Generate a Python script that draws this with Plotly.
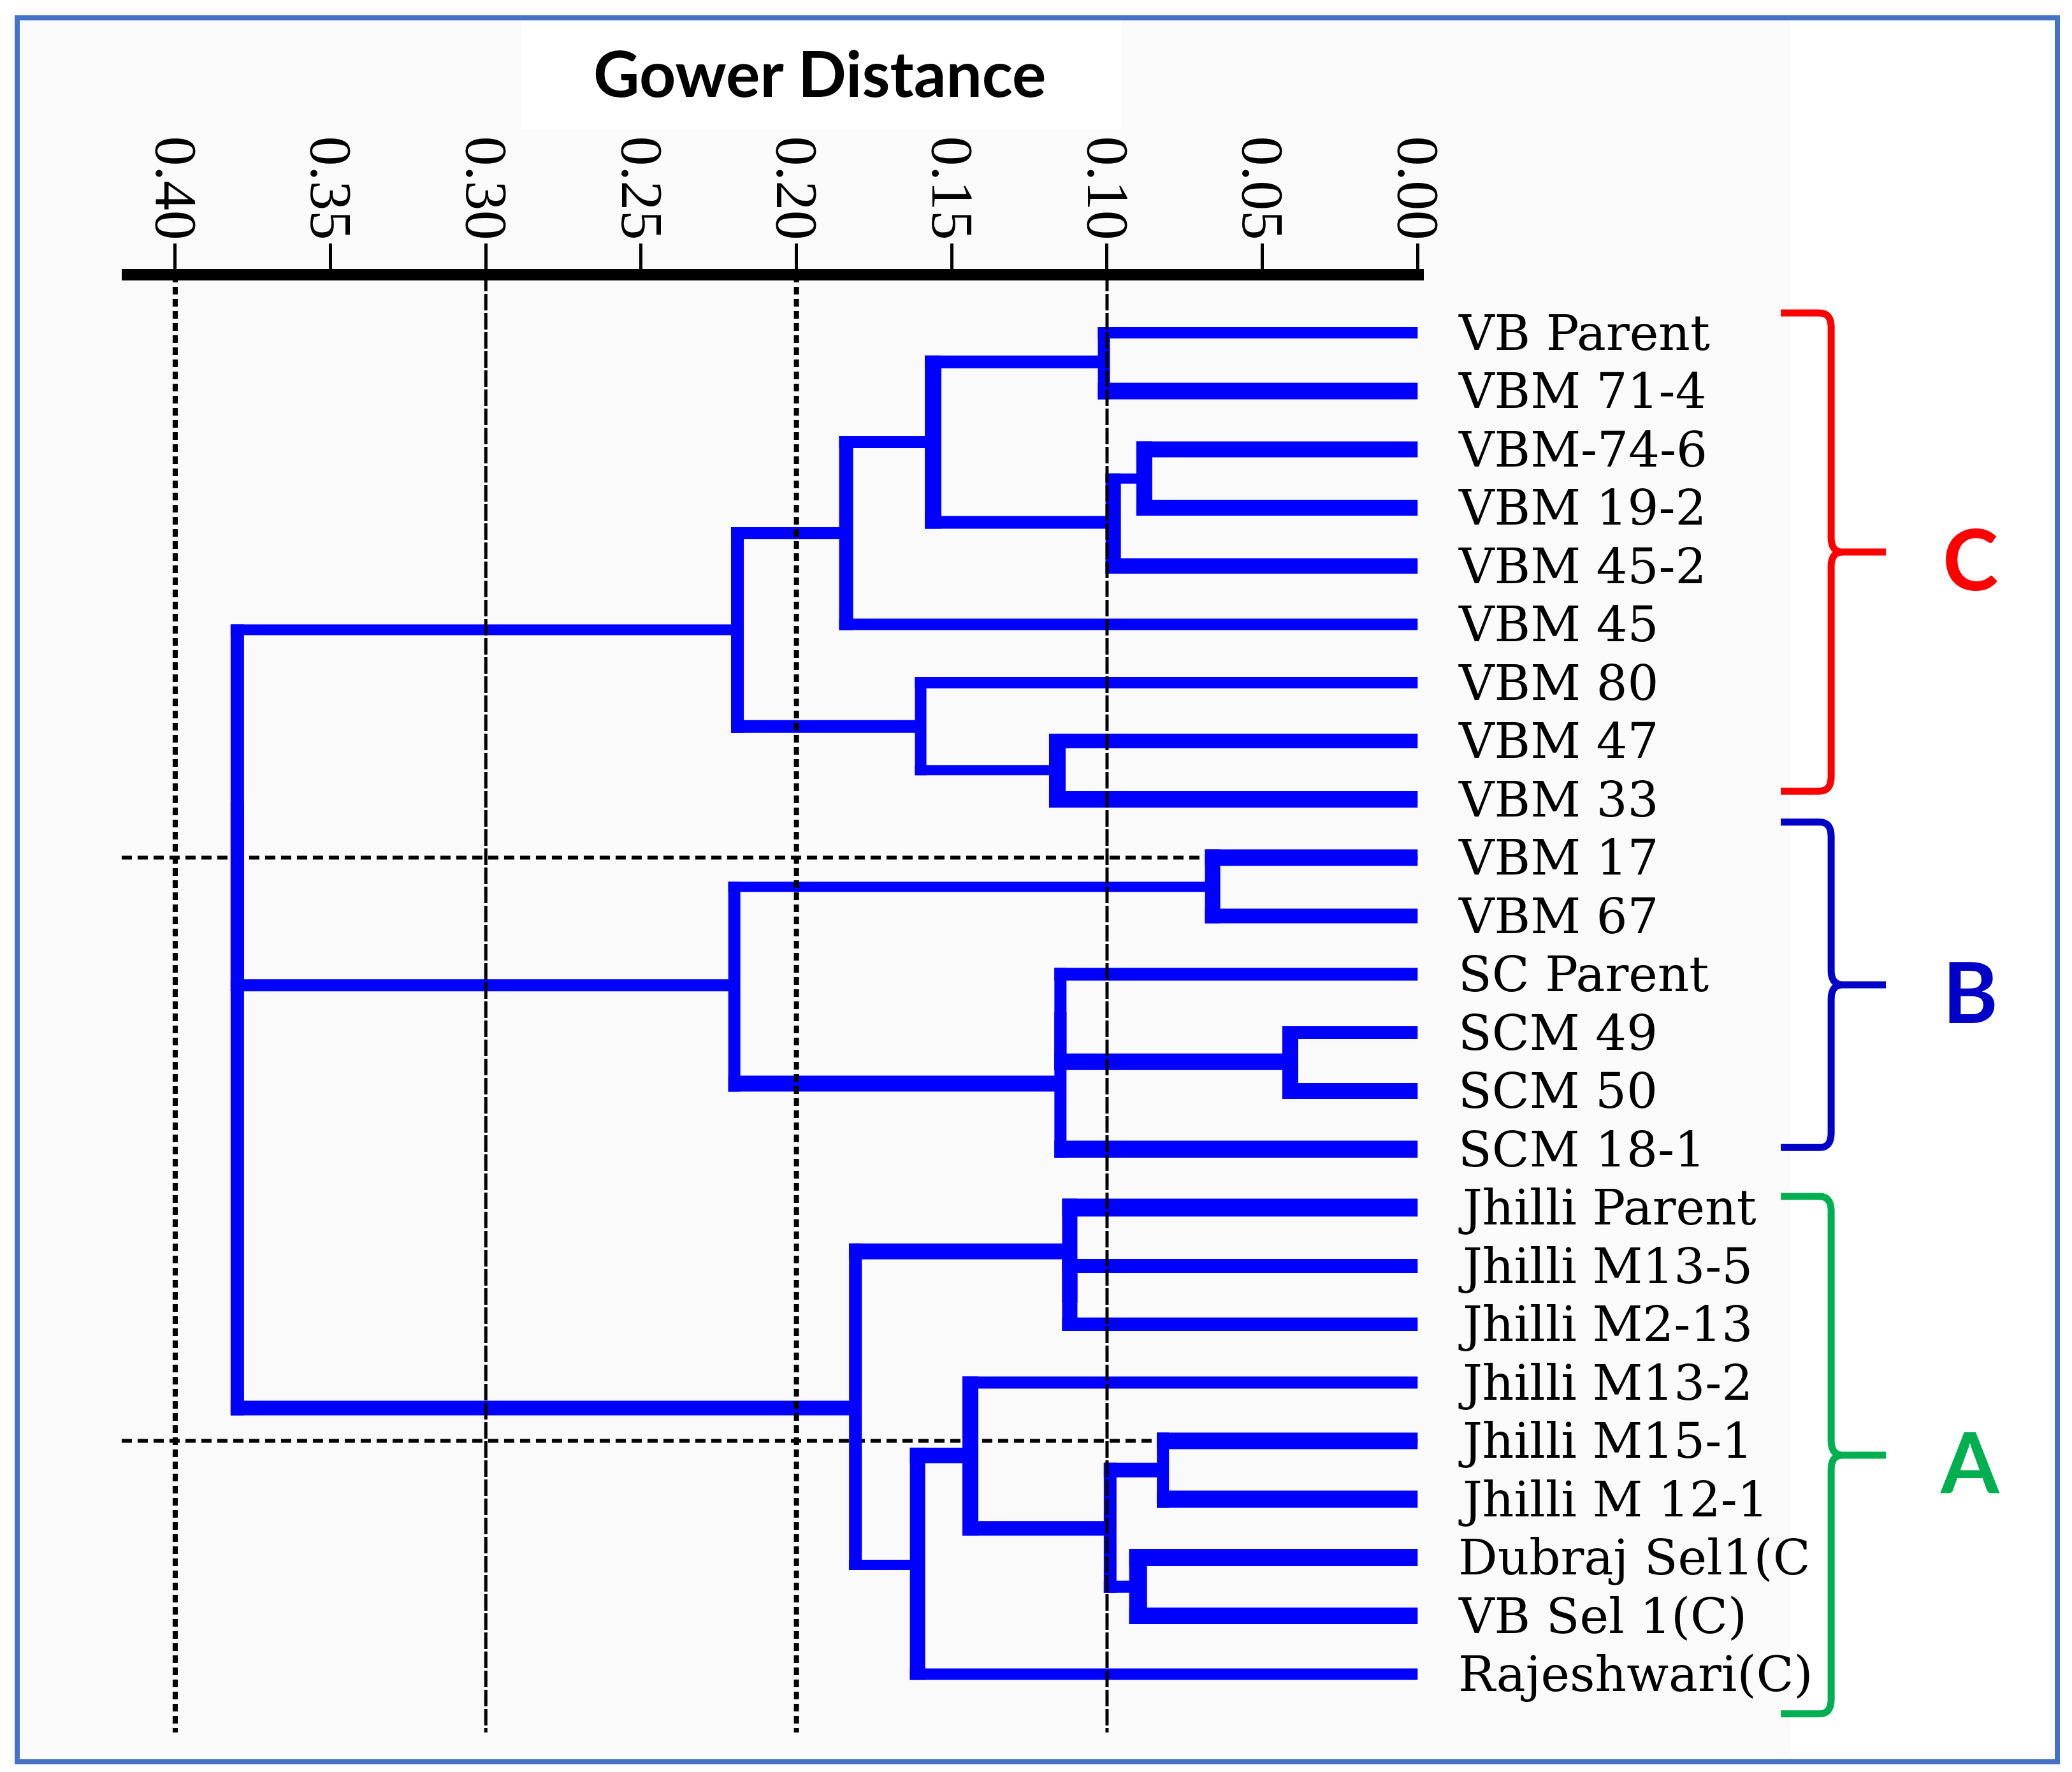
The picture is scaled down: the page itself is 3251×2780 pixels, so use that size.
import plotly.graph_objects as go

# ---------------- data ----------------
labels = ["VB Parent", "VBM 71-4", "VBM-74-6", "VBM 19-2", "VBM 45-2", "VBM 45",
          "VBM 80", "VBM 47", "VBM 33",
          "VBM 17", "VBM 67", "SC Parent", "SCM 49", "SCM 50", "SCM 18-1",
          "Jhilli Parent", "Jhilli M13-5", "Jhilli M2-13", "Jhilli M13-2",
          "Jhilli M15-1", "Jhilli M 12-1", "Dubraj Sel1(C", "VB Sel 1(C)", "Rajeshwari(C)"]

# agglomeration steps (children are leaf indices or earlier node ids)
node_ids    = ["c1", "c2", "c3", "c4", "c5", "c6", "c7", "C",
               "b1", "b2", "b3", "b4", "B", "CB",
               "a1", "a2", "a3", "a4", "a5", "a6", "a7", "A", "root"]
node_left   = [0, 2, "c2", "c1", "c4", 7, 6, "c5",
               9, 12, 11, "b3", "b1", "C",
               16, 15, 19, 21, "a3", 18, "a6", "a2", "CB"]
node_right  = [1, 3, 4, "c3", 5, 8, "c6", "c7",
               10, 13, "b2", 14, "b4", "B",
               17, "a1", 20, 22, "a4", "a5", 23, "a7", "A"]
node_height = [0.101, 0.088, 0.098, 0.156, 0.184, 0.116, 0.160, 0.219,
               0.066, 0.041, 0.115, 0.115, 0.220, 0.380,
               0.112, 0.112, 0.082, 0.090, 0.099, 0.144, 0.161, 0.181, 0.380]

tick_values = [0.00, 0.05, 0.10, 0.15, 0.20, 0.25, 0.30, 0.35, 0.40]
tick_text = ["0.00", "0.05", "0.10", "0.15", "0.20", "0.25", "0.30", "0.35", "0.40"]
grid_values = [0.10, 0.20, 0.30, 0.40]
cut_rows = [9, 19]

group_names = ["C", "B", "A"]
group_colors = ["#FF0000", "#0000C8", "#00B050"]
group_top = [-0.34, 8.39, 14.81]      # brace extents in leaf rows
group_bottom = [7.86, 13.97, 23.68]

# ---------------- style ----------------
W, H = 3251, 2780          # design frame (pixel calibration of the reference)
FIG_W = 3293               # layout width that fills the photographed page
PX_PER_UNIT = 4875.0       # design pixels per unit of Gower distance
X0_PX = 2225.0             # design pixel of distance 0
ROW_PX = 91.5
ROW0_PX = 522.0
AXIS_Y_PX = 431.0
AXIS_X0_PX, AXIS_X1_PX = 191.0, 2235.0
BLUE = "#0000FF"
SERIF = "Liberation Serif"

leaf_width = [18, 26, 25, 25, 24, 18, 18, 23, 26,
              26, 23, 20, 20, 25, 27,
              28, 22, 21, 19, 26, 27, 27, 26, 18]
node_vwidth = [19, 25, 24, 26, 22, 26, 18, 20,
               24, 25, 19, 19, 19, 21,
               24, 24, 19, 28, 20, 25, 24, 20, 21]
node_swidth = [20, 16, 20, 19, 19, 16, 20, 17,
               16, 26, 19, 25, 19, 19,
               24, 25, 23, 19, 23, 24, 16, 23, 0]


def xd(px):
    return (X0_PX - px) / PX_PER_UNIT


def yr(px):
    return (px - ROW0_PX) / ROW_PX


x_range = [xd(0), xd(W)]
y_range = [yr(H), yr(0)]

# ---------------- dendrogram geometry ----------------
pos = {i: (0.0, float(i)) for i in range(len(labels))}
stem_w = {i: leaf_width[i] for i in range(len(labels))}
segments = []
for k, nid in enumerate(node_ids):
    l, r, h = node_left[k], node_right[k], node_height[k]
    xl, yl = pos[l]
    xr_, yr_ = pos[r]
    vw = node_vwidth[k]
    ext = (vw / 2.0) / PX_PER_UNIT
    for cx, cy, c in [(xl, yl, l), (xr_, yr_, r)]:
        if h > cx:
            segments.append((cx, cy, h + ext, cy, stem_w[c]))
    if yl <= yr_:
        top, bot, wt, wb = yl, yr_, stem_w[l], stem_w[r]
    else:
        top, bot, wt, wb = yr_, yl, stem_w[r], stem_w[l]
    segments.append((h, top - (wt / 2.0) / ROW_PX, h, bot + (wb / 2.0) / ROW_PX, vw))
    pos[nid] = (h, (yl + yr_) / 2.0)
    stem_w[nid] = node_swidth[k]

fig = go.Figure()

# horizontal dashed reference lines
for row in cut_rows:
    fig.add_trace(go.Scatter(x=[xd(AXIS_X0_PX), 0.0], y=[row, row], mode="lines",
                             line=dict(color="black", width=6, dash="16px,9px"),
                             hoverinfo="skip", showlegend=False))

# blue dendrogram, grouped by line width
by_w = {}
for x0, y0, x1, y1, w in segments:
    by_w.setdefault(w, ([], []))
    by_w[w][0].extend([x0, x1, None])
    by_w[w][1].extend([y0, y1, None])
for w, (xs, ys) in sorted(by_w.items()):
    fig.add_trace(go.Scatter(x=xs, y=ys, mode="lines", line=dict(color=BLUE, width=w),
                             hoverinfo="skip", showlegend=False))

# vertical dashed grid lines
for g in grid_values:
    heavy = round(g * 10) % 2 == 0
    fig.add_trace(go.Scatter(x=[g, g], y=[yr(AXIS_Y_PX), yr(2718)], mode="lines",
                             line=dict(color="black", width=8 if heavy else 5,
                                       dash="12px,7px" if heavy else "26px,4px"),
                             hoverinfo="skip", showlegend=False))

# invisible trace to activate the top distance axis
fig.add_trace(go.Scatter(x=[0.2], y=[0], xaxis="x2", yaxis="y", mode="markers",
                         marker=dict(opacity=0), hoverinfo="skip", showlegend=False))

# leaf labels
annotations = []
for i, lab in enumerate(labels):
    annotations.append(dict(x=xd(2287), y=i, xref="x", yref="y", text=lab, showarrow=False,
                            xanchor="left", yanchor="middle",
                            font=dict(family="DejaVu Serif", size=77, color="black")))

# braces and group letters
shapes = []
tip, spine, mid = xd(2795), xd(2874), xd(2960)
cx = 18.0 / PX_PER_UNIT
ry = 0.25
for name, col, y0, y1 in zip(group_names, group_colors, group_top, group_bottom):
    ym = (y0 + y1) / 2.0
    path = (f"M {tip},{y0} L {spine + cx},{y0} Q {spine},{y0} {spine},{y0 + ry} "
            f"L {spine},{ym - ry} Q {spine},{ym} {spine - cx},{ym} L {mid},{ym} "
            f"M {spine - cx},{ym} Q {spine},{ym} {spine},{ym + ry} "
            f"L {spine},{y1 - ry} Q {spine},{y1} {spine + cx},{y1} L {tip},{y1}")
    shapes.append(dict(type="path", xref="x", yref="y", path=path,
                       line=dict(color=col, width=11), fillcolor="rgba(0,0,0,0)", layer="above"))
    annotations.append(dict(x=xd(3092), y=ym + 0.1, xref="x", yref="y", text=f"<b>{name}</b>",
                            showarrow=False, xanchor="center", yanchor="middle",
                            font=dict(family="Lato", size=132, color=col)))

# title
annotations.append(dict(x=1287 / W, y=1 - 113 / H, xref="paper", yref="paper",
                        text="<b>Gower Distance</b>", showarrow=False,
                        xanchor="center", yanchor="middle",
                        font=dict(family="Lato", size=100, color="black")))


def py(p):
    return 1 - p / H


# backgrounds and frame
shapes.insert(0, dict(type="rect", xref="paper", yref="paper", x0=31 / W, x1=2810 / W,
                      y0=py(2751), y1=py(32), fillcolor="#FAFAFA", line=dict(width=0), layer="below"))
shapes.insert(1, dict(type="rect", xref="paper", yref="paper", x0=819 / W, x1=1760 / W,
                      y0=py(202), y1=py(32), fillcolor="#FFFFFF", line=dict(width=0), layer="below"))
shapes.append(dict(type="rect", xref="paper", yref="paper", x0=27 / W, x1=3229 / W,
                   y0=py(2764), y1=py(28), line=dict(color="#4472C4", width=8),
                   fillcolor="rgba(0,0,0,0)", layer="above"))

fig.update_layout(
    width=FIG_W, height=H, margin=dict(l=0, r=0, t=0, b=0),
    paper_bgcolor="white", plot_bgcolor="rgba(0,0,0,0)",
    showlegend=False, hovermode=False,
    xaxis=dict(domain=[0, 1], range=x_range, visible=False),
    yaxis=dict(domain=[0, 1], range=y_range, visible=False),
    xaxis2=dict(domain=[AXIS_X0_PX / W, AXIS_X1_PX / W],
                range=[xd(AXIS_X0_PX), xd(AXIS_X1_PX)],
                anchor="free", position=1 - AXIS_Y_PX / H, side="top",
                showline=True, linecolor="black", linewidth=18,
                ticks="outside", ticklen=40, tickwidth=5, tickcolor="black",
                tickmode="array", tickvals=tick_values, ticktext=tick_text,
                tickangle=90, ticklabelstandoff=-27,
                tickfont=dict(family=SERIF, size=93, color="black"),
                showgrid=False, zeroline=False),
    shapes=shapes, annotations=annotations,
)

fig.write_html(
    "out.html", config={"displayModeBar": False, "responsive": False},
    post_script=(
        "document.documentElement.style.margin='0';"
        "document.body.style.margin='0';document.body.style.padding='0';"
        "document.documentElement.style.overflow='hidden';"
        "document.body.style.overflow='hidden';"
    ),
)
